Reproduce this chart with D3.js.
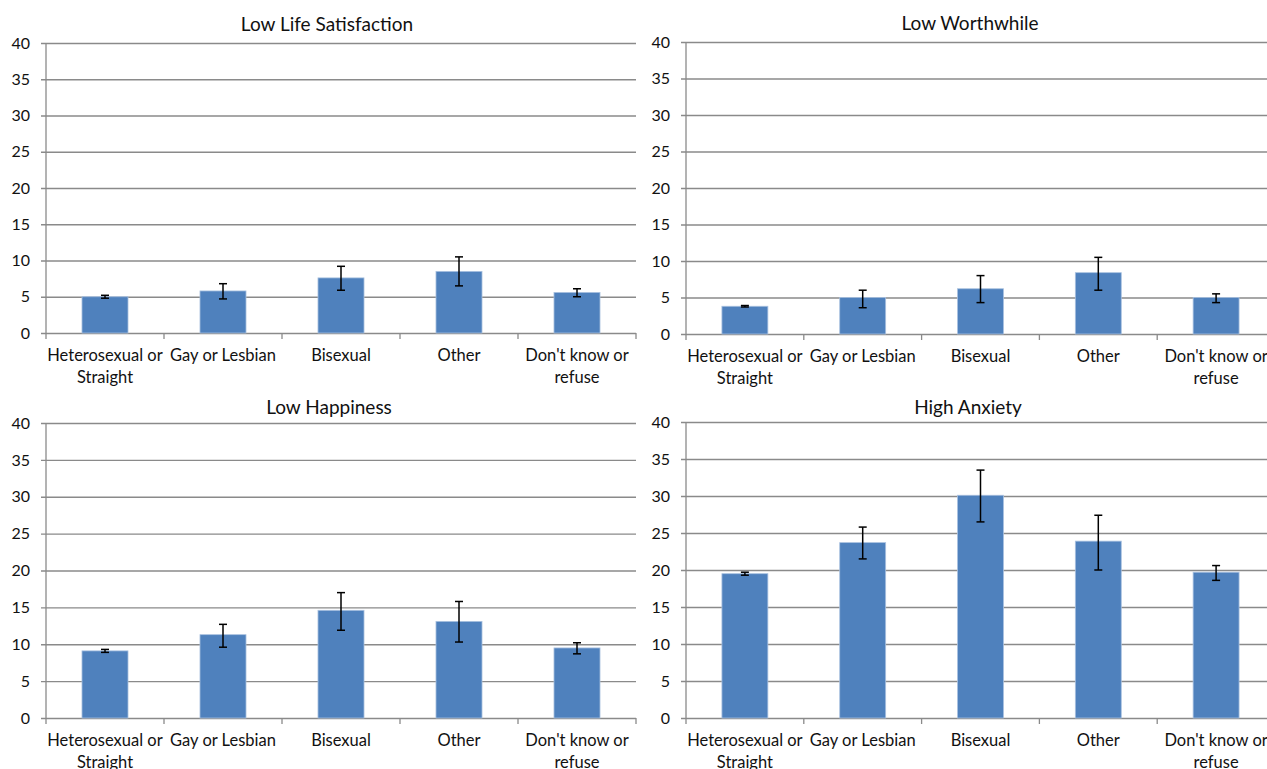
<!DOCTYPE html>
<html>
<head>
<meta charset="utf-8">
<script src="https://cdn.jsdelivr.net/npm/d3@7"></script>
<style>
  html, body { margin: 0; padding: 0; background: #fff; }
  svg { display: block; }
  text { font-family: Lato, "Open Sans", sans-serif; fill: #111; }
</style>
</head>
<body>
<svg id="chart" width="1267" height="769"></svg>
<script>
// Categories shared by every panel
const categories = [
  "Heterosexual or\nStraight",
  "Gay or Lesbian",
  "Bisexual",
  "Other",
  "Don't know or\nrefuse"
];

// Y axis tick values (percent)
const yTicks = [0, 5, 10, 15, 20, 25, 30, 35, 40];

// Panel titles
const titles = ["Low Life Satisfaction", "Low Worthwhile", "Low Happiness", "High Anxiety"];

// Estimates (%) and confidence interval bounds per panel
const lifeSatValues   = [5.0, 5.8, 7.6, 8.5, 5.6];
const lifeSatLower    = [4.8, 4.7, 5.9, 6.5, 5.0];
const lifeSatUpper    = [5.2, 6.8, 9.2, 10.5, 6.1];

const worthValues     = [3.8, 5.0, 6.2, 8.4, 5.0];
const worthLower      = [3.7, 3.6, 4.3, 6.0, 4.3];
const worthUpper      = [3.9, 6.0, 8.0, 10.5, 5.5];

const happyValues     = [9.1, 11.3, 14.6, 13.1, 9.5];
const happyLower      = [8.9, 9.6, 11.9, 10.3, 8.7];
const happyUpper      = [9.3, 12.7, 17.0, 15.8, 10.2];

const anxietyValues   = [19.5, 23.7, 30.1, 23.9, 19.7];
const anxietyLower    = [19.3, 21.5, 26.5, 20.0, 18.6];
const anxietyUpper    = [19.7, 25.8, 33.5, 27.4, 20.6];

const series = [
  { values: lifeSatValues, lower: lifeSatLower, upper: lifeSatUpper },
  { values: worthValues,   lower: worthLower,   upper: worthUpper },
  { values: happyValues,   lower: happyLower,   upper: happyUpper },
  { values: anxietyValues, lower: anxietyLower, upper: anxietyUpper }
];

// Plot frames for the 2x2 grid
const frames = [
  { left: 46,  right: 636,  top: 43,  bottom: 333, titleX: 327, titleY: 31 },
  { left: 686, right: 1275, top: 42,  bottom: 334, titleX: 970, titleY: 30 },
  { left: 46,  right: 636,  top: 423, bottom: 718, titleX: 329, titleY: 414 },
  { left: 686, right: 1275, top: 422, bottom: 718, titleX: 968, titleY: 414 }
];

const gridColor = "#8a8a8a";
const barColor = "#4f81bd";

const svg = d3.select("#chart");

frames.forEach((f, i) => {
  const s = series[i];
  const g = svg.append("g");

  const y = d3.scaleLinear().domain([0, 40]).range([f.bottom, f.top]);
  const x = d3.scaleBand()
    .domain(categories)
    .range([f.left, f.right])
    .paddingInner(0.61)
    .paddingOuter(0.305);
  const step = x.step();

  // Horizontal gridlines with short outer ticks
  g.append("g")
    .attr("transform", `translate(${f.left},0)`)
    .call(d3.axisLeft(y).tickValues(yTicks).tickSize(5).tickSizeOuter(0).tickPadding(11))
    .call(a => a.select(".domain").remove())
    .call(a => a.selectAll(".tick line").attr("stroke", gridColor).attr("stroke-width", 1.3)
      .attr("x1", f.right - f.left))
    .call(a => a.selectAll(".tick line").attr("x2", -5))
    .call(a => a.selectAll(".tick text")
      .style("font-size", "16px").style("fill", "#111"));

  // Vertical axis line
  g.append("line")
    .attr("x1", f.left).attr("x2", f.left)
    .attr("y1", f.top).attr("y2", f.bottom)
    .attr("stroke", gridColor).attr("stroke-width", 1.3);

  // Category boundary ticks below the baseline
  g.selectAll("line.cat-tick")
    .data(d3.range(categories.length + 1))
    .join("line")
    .attr("class", "cat-tick")
    .attr("x1", k => f.left + k * step).attr("x2", k => f.left + k * step)
    .attr("y1", f.bottom).attr("y2", f.bottom + 6)
    .attr("stroke", gridColor).attr("stroke-width", 1.3);

  // Bars
  g.selectAll("rect.bar")
    .data(s.values)
    .join("rect")
    .attr("class", "bar")
    .attr("x", (d, k) => x(categories[k]))
    .attr("width", x.bandwidth())
    .attr("y", d => y(d))
    .attr("height", d => y(0) - y(d))
    .attr("fill", barColor)
    .attr("stroke", "#a9c1e0")
    .attr("stroke-width", 0.8);

  // Error bars
  const capHalf = 4;
  const eb = g.selectAll("g.err")
    .data(s.values.map((v, k) => ({ k, lo: s.lower[k], hi: s.upper[k] })))
    .join("g")
    .attr("class", "err")
    .attr("stroke", "#000")
    .attr("stroke-width", 1.5);
  const cx = d => x(categories[d.k]) + x.bandwidth() / 2;
  eb.append("line").attr("x1", cx).attr("x2", cx)
    .attr("y1", d => y(d.lo)).attr("y2", d => y(d.hi));
  eb.append("line").attr("x1", d => cx(d) - capHalf).attr("x2", d => cx(d) + capHalf)
    .attr("y1", d => y(d.hi)).attr("y2", d => y(d.hi));
  eb.append("line").attr("x1", d => cx(d) - capHalf).attr("x2", d => cx(d) + capHalf)
    .attr("y1", d => y(d.lo)).attr("y2", d => y(d.lo));

  // Category labels (up to two lines)
  const lbl = g.selectAll("text.cat")
    .data(categories)
    .join("text")
    .attr("class", "cat")
    .attr("text-anchor", "middle")
    .style("font-size", "16.5px")
    .attr("x", c => x(c) + x.bandwidth() / 2)
    .attr("y", f.bottom + 28);
  lbl.selectAll("tspan")
    .data(c => c.split("\n"))
    .join("tspan")
    .attr("x", function () { return d3.select(this.parentNode).attr("x"); })
    .attr("dy", (d, j) => j === 0 ? 0 : 22)
    .text(d => d);

  // Title
  g.append("text")
    .attr("x", f.titleX).attr("y", f.titleY)
    .attr("text-anchor", "middle")
    .style("font-size", "19px")
    .text(titles[i]);
});
</script>
</body>
</html>
